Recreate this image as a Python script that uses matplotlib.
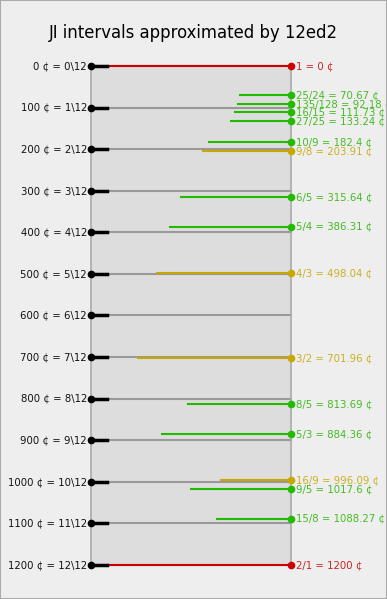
import matplotlib
matplotlib.use('Agg')
import matplotlib.pyplot as plt
from matplotlib.patches import Rectangle

# 12ed2 steps
edo_steps = list(range(13))
edo_cents = [0, 100, 200, 300, 400, 500, 600, 700, 800, 900, 1000, 1100, 1200]

# JI intervals
ji_ratios = ['1', '25/24', '135/128', '16/15', '27/25', '10/9', '9/8', '6/5', '5/4',
             '4/3', '3/2', '8/5', '5/3', '16/9', '9/5', '15/8', '2/1']
ji_cents = [0, 70.67, 92.18, 111.73, 133.24, 182.4, 203.91, 315.64, 386.31,
            498.04, 701.96, 813.69, 884.36, 996.09, 1017.6, 1088.27, 1200]
# where each JI line starts (fraction of axis width)
ji_start = [0, 0.745, 0.733, 0.72, 0.70, 0.59, 0.56, 0.45, 0.395,
            0.33, 0.235, 0.485, 0.357, 0.65, 0.50, 0.63, 0]
ji_kind = ['oct', '5', '5', '5', '5', '5', '3', '5', '5',
           '3', '3', '5', '5', '3', '5', '5', 'oct']

line_colors = {'oct': '#cc0000', '3': '#c8a800', '5': '#22bb00'}
text_colors = {'oct': '#cc2222', '3': '#c8b020', '5': '#44bb22'}

fig = plt.figure(figsize=(3.87, 5.99), dpi=100, facecolor='#eeeeee')
fig.patches.append(Rectangle((0, 0), 1, 1, transform=fig.transFigure,
                             fill=False, edgecolor='#aaaaaa', linewidth=1.5))
ax = fig.add_axes([0.235, 0.0568, 0.517, 0.833])
ax.set_facecolor('#dddddd')
ax.set_xlim(0, 1)
ax.set_ylim(1200, 0)
ax.set_xticks([])
ax.set_yticks([])
for side in ['top', 'bottom']:
    ax.spines[side].set_visible(False)
for side in ['left', 'right']:
    ax.spines[side].set_color('#aaaaaa')
    ax.spines[side].set_linewidth(1.2)

# edo steps
for s, c in zip(edo_steps, edo_cents):
    ax.plot([0, 1], [c, c], color='#999999', lw=1.5, clip_on=False, zorder=2)
    ax.plot([0, 0.08], [c, c], color='black', lw=2.5, clip_on=False, zorder=4)
    ax.plot([0], [c], 'o', color='black', ms=4.5, clip_on=False, zorder=5)
    ax.text(-0.02, c, f'{c} ¢ = {s}\\12', ha='right', va='center',
            fontsize=7.3, color='#111111')

# ji intervals
for r, c, x0, k in zip(ji_ratios, ji_cents, ji_start, ji_kind):
    x_line = 0.08 if k == 'oct' else x0
    ax.plot([x_line, 1], [c, c], color=line_colors[k], lw=1.5, clip_on=False, zorder=3)
    ax.plot([1], [c], 'o', color=line_colors[k], ms=4.5, clip_on=False, zorder=5)
    ax.text(1.025, c, f'{r} = {c:g} ¢', ha='left', va='center',
            fontsize=7.3, color=text_colors[k])

fig.suptitle('JI intervals approximated by 12ed2', fontsize=11.9, y=0.945, va='center')

plt.savefig('out.png', dpi=100, facecolor=fig.get_facecolor())
